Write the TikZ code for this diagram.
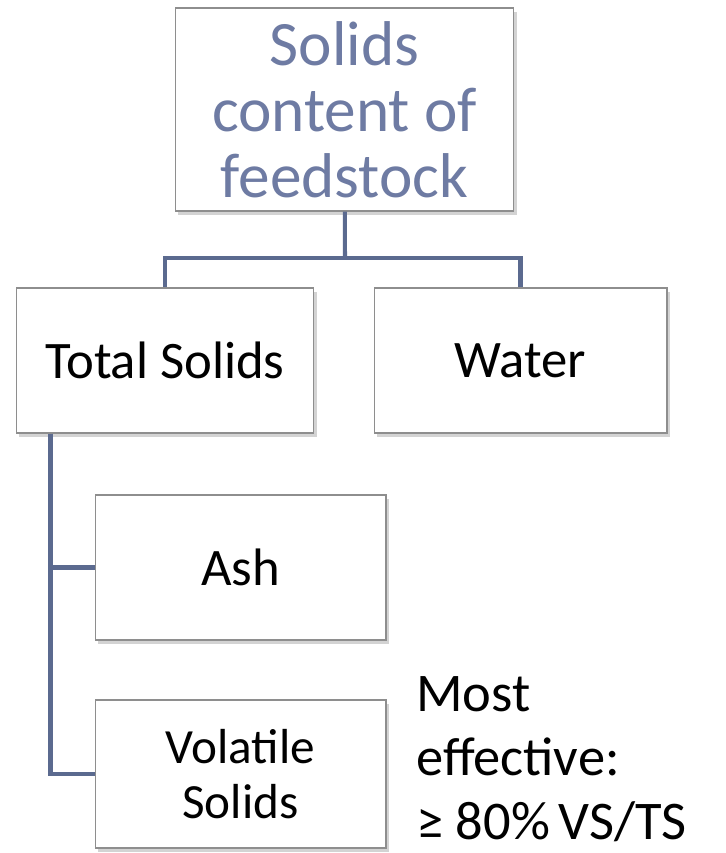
\documentclass[tikz,border=0pt]{standalone}
\usepackage{fontspec}
\setmainfont{Carlito}
\usetikzlibrary{shadows,calc}
\definecolor{linkblue}{HTML}{5B6A8F}
\definecolor{titleblue}{HTML}{6E7BA3}
\definecolor{boxgray}{HTML}{8E8E8E}
\begin{document}
\begin{tikzpicture}[x=0.02cm, y=-0.02cm,
		box/.style={draw=boxgray, line width=0.6pt, fill=white, rectangle, text centered, align=center, inner sep=0pt,
			drop shadow={shadow xshift=1.5pt, shadow yshift=-2pt, opacity=0.35}},
		link/.style={draw=linkblue, line width=2.3pt}]
		\useasboundingbox (0,0) rectangle (725,853);
		\node (content) [box, minimum width=6.78cm, minimum height=4.06cm, text=titleblue, font=\fontsize{36}{37.5}\selectfont] at (344.5,109.5) {Solids\\content of\\feedstock};
		\node (total) [box, minimum width=5.96cm, minimum height=2.9cm, font=\fontsize{30}{34}\selectfont] at (165,360.5) {Total Solids};
		\node (water) [box, minimum width=5.86cm, minimum height=2.9cm, font=\fontsize{30}{34}\selectfont] at (520.5,360.5) {Water};
		\node (ash) [box, minimum width=5.82cm, minimum height=2.9cm, font=\fontsize{30}{34}\selectfont] at (240.5,567.5) {Ash};
		\node (volatile) [box, minimum width=5.82cm, minimum height=2.96cm, font=\fontsize{28}{31.5}\selectfont] at (240.5,774) {Volatile\\Solids};
		\node (note) [anchor=north west, align=left, inner sep=0pt, font=\fontsize{31}{36.5}\selectfont] at (416,676) {Most\\effective:\\≥ 80\%\,VS/TS};

		\coordinate (split) at (345,258);
		\coordinate (trunk) at ($(total.south west)+(35,0)$);

		\draw [link] (content) -- (split);
		\draw [link] (split) -| (total);
		\draw [link] (split) -| (water);
		\draw [link] (trunk) |- (ash.west);
		\draw [link] (trunk) |- (volatile.west);
	\end{tikzpicture}
\end{document}
